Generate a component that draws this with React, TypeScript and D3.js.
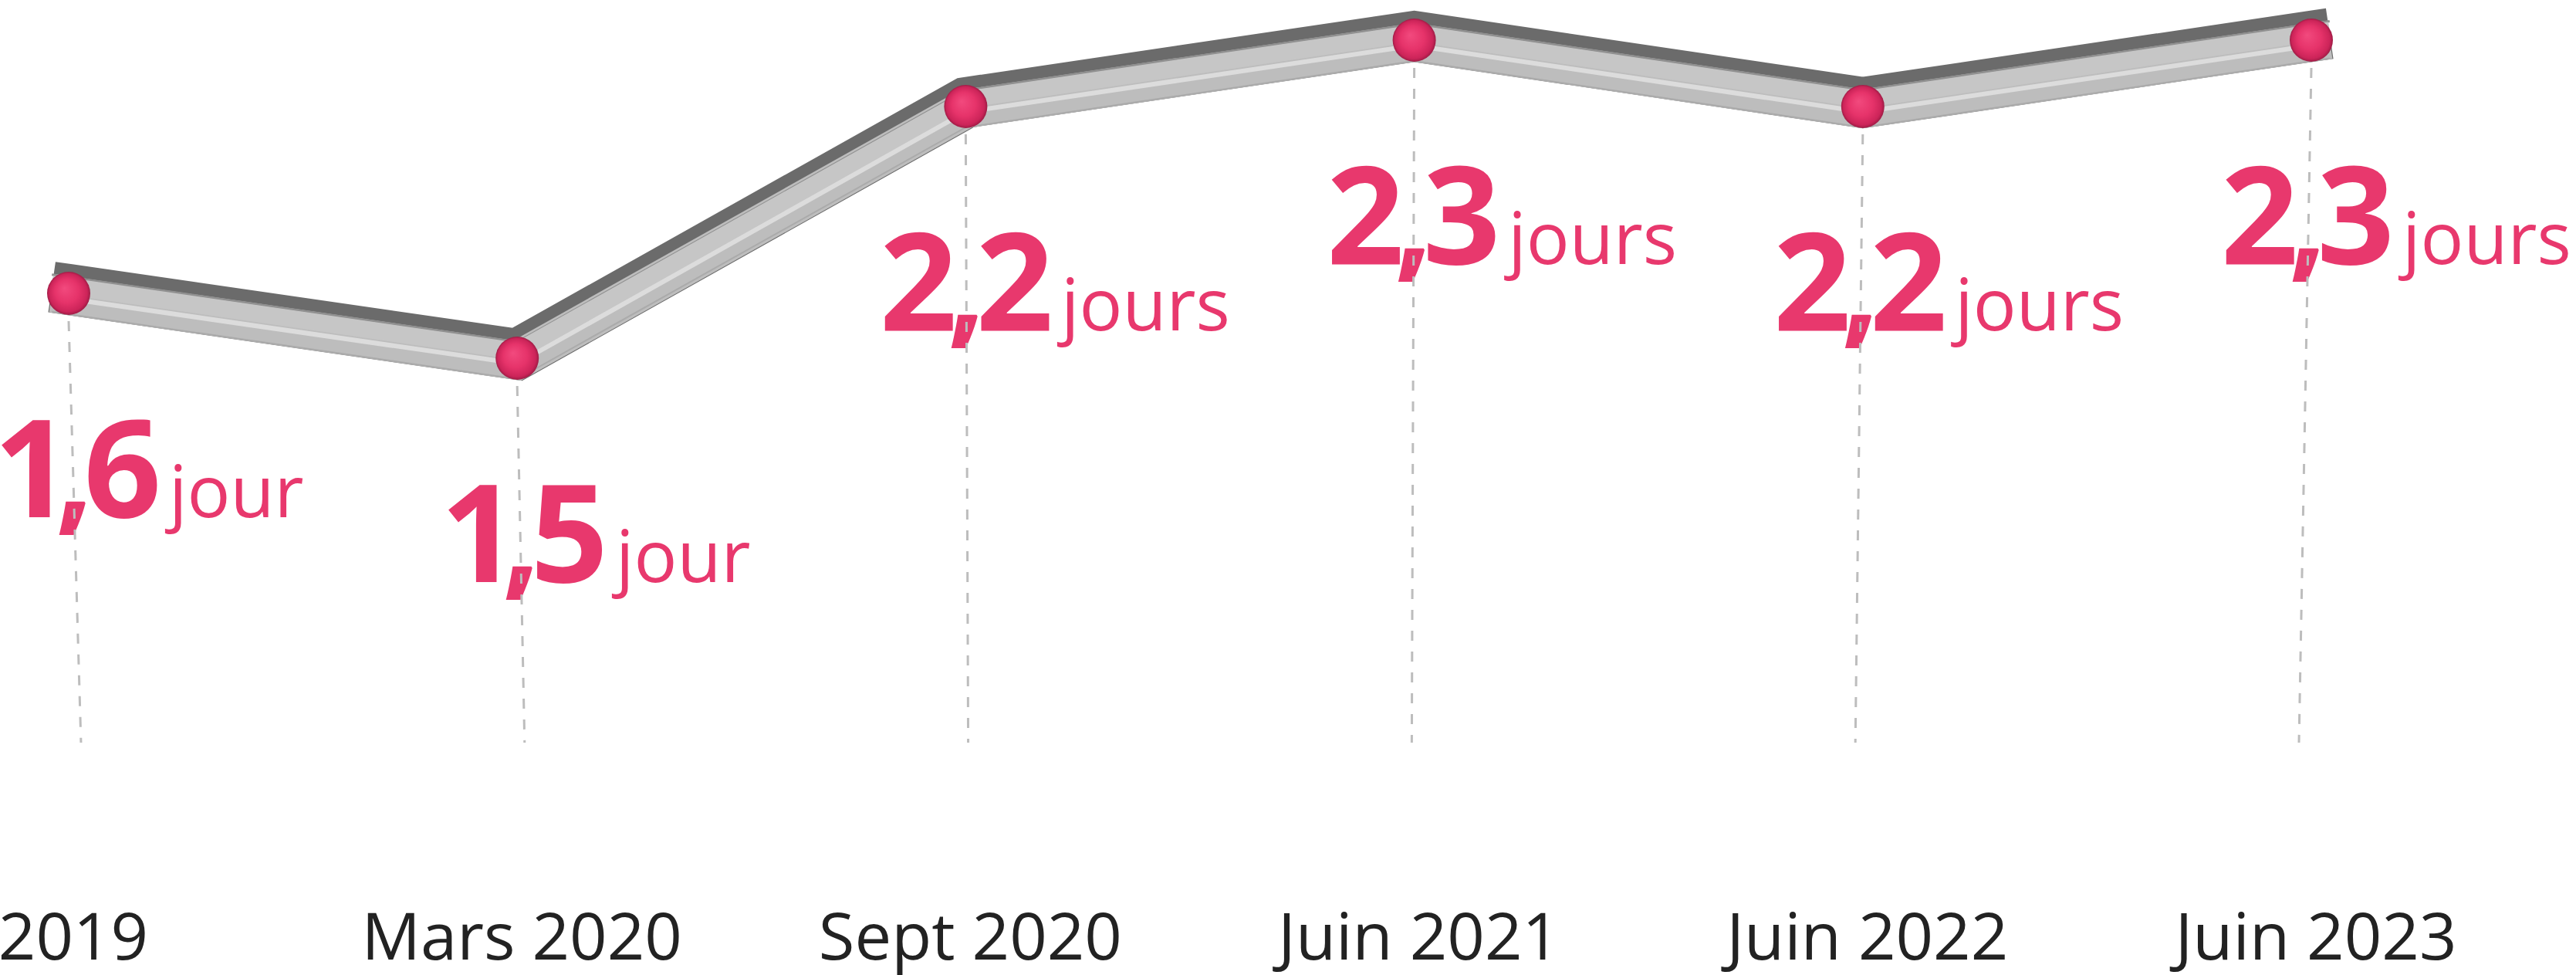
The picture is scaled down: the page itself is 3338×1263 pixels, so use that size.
import React from "react";
import * as d3 from "d3";

// Durée moyenne, en jours
const categories = ["2019", "Mars 2020", "Sept 2020", "Juin 2021", "Juin 2022", "Juin 2023"];
const values = [1.6, 1.5, 2.2, 2.3, 2.2, 2.3];
const units = ["jour", "jour", "jours", "jours", "jours", "jours"];

// the original uses a broken vertical axis, so the scale is piecewise
const yBreaks = [1.5, 1.6, 2.2, 2.3];

const W = 3338;
const H = 1263;
const PINK = "#E8386D";
const FONT = "'Open Sans', 'Noto Sans', sans-serif";

const fr = d3.formatLocale({ decimal: ",", thousands: " ", grouping: [3], currency: ["", " €"] });
const fmt = fr.format(".1f");

function App() {
  const x = d3.scalePoint<string>().domain(categories).range([89, 2995]);
  const y = d3.scaleLinear().domain(yBreaks).range([464, 380, 138, 52]);

  const pts: [number, number][] = values.map((v, i) => [x(categories[i]) as number, y(v)]);
  const n = pts.length;

  // push the tube a bit past the first and last balls
  const ext = (a: [number, number], b: [number, number], d: number): [number, number] => {
    const dx = a[0] - b[0];
    const dy = a[1] - b[1];
    const l = Math.hypot(dx, dy);
    return [a[0] + (dx / l) * d, a[1] + (dy / l) * d];
  };
  const tubePts = [ext(pts[0], pts[1], 22), ...pts, ext(pts[n - 1], pts[n - 2], 24)];
  const line = d3.line();
  const shifted = (dy: number) => line(tubePts.map(([a, b]) => [a, b + dy] as [number, number])) || "";

  const lineBottom = 962;
  const lean = (px: number) => (1540 - px) * 0.011;

  return (
    <svg width={W} height={H} style={{ position: "absolute", left: 0, top: 0, background: "#fff" }}>
      <defs>
        <radialGradient id="ball" cx="0.5" cy="0.5" r="0.5" fx="0.4" fy="0.38">
          <stop offset="0%" stopColor="#F24A7E" />
          <stop offset="55%" stopColor="#E6336A" />
          <stop offset="88%" stopColor="#CC2459" />
          <stop offset="100%" stopColor="#9E1C45" />
        </radialGradient>
      </defs>

      {/* tube */}
      <g fill="none" strokeLinejoin="miter" strokeMiterlimit={6}>
        <path d={shifted(-5)} stroke="#6b6b6b" strokeWidth={66} />
        <path d={shifted(3)} stroke="#bdbdbd" strokeWidth={50} />
        <path d={shifted(-21)} stroke="#909090" strokeWidth={3} />
        <path d={shifted(-9)} stroke="#c6c6c6" strokeWidth={22} />
        <path d={shifted(7)} stroke="#dcdcdc" strokeWidth={6} />
        <path d={shifted(27)} stroke="#ababab" strokeWidth={2} />
      </g>

      {/* value labels: the comma sits on the dashed guide */}
      {pts.map(([px, py], i) => {
        const [ent, dec] = fmt(values[i]).split(",");
        const ly = py + 290;
        const y1 = py + 36;
        const cx = px + lean(px) * ((ly - y1) / (lineBottom - y1));
        const gap = ent === "1" ? 4 : 12; // the "1" carries a wide right bearing
        return (
          <text key={"lab" + i} y={ly} fill={PINK} fontFamily={FONT} fontSize={176} fontWeight={700}>
            <tspan x={cx - gap} textAnchor="end">
              {ent}
            </tspan>
            <tspan x={cx} textAnchor="middle">
              ,
            </tspan>
            <tspan x={cx + 12} textAnchor="start">
              {dec}
            </tspan>
            <tspan dx={10} fontSize={93} fontWeight={400}>
              {units[i]}
            </tspan>
          </text>
        );
      })}

      {/* dashed guides */}
      {pts.map(([px, py], i) => (
        <line
          key={"g" + i}
          x1={px}
          y1={py + 36}
          x2={px + lean(px)}
          y2={lineBottom}
          stroke="#bdbdbd"
          strokeWidth={3}
          strokeDasharray="13 14"
        />
      ))}

      {/* balls */}
      {pts.map(([px, py], i) => (
        <circle key={"b" + i} cx={px} cy={py} r={28} fill="url(#ball)" />
      ))}

      {/* category labels */}
      {categories.map((c) => (
        <text
          key={c}
          x={(x(c) as number) + 6}
          y={1243}
          textAnchor="middle"
          fontFamily={FONT}
          fontSize={85}
          fill="#222"
        >
          {c}
        </text>
      ))}
    </svg>
  );
}

export default App;
